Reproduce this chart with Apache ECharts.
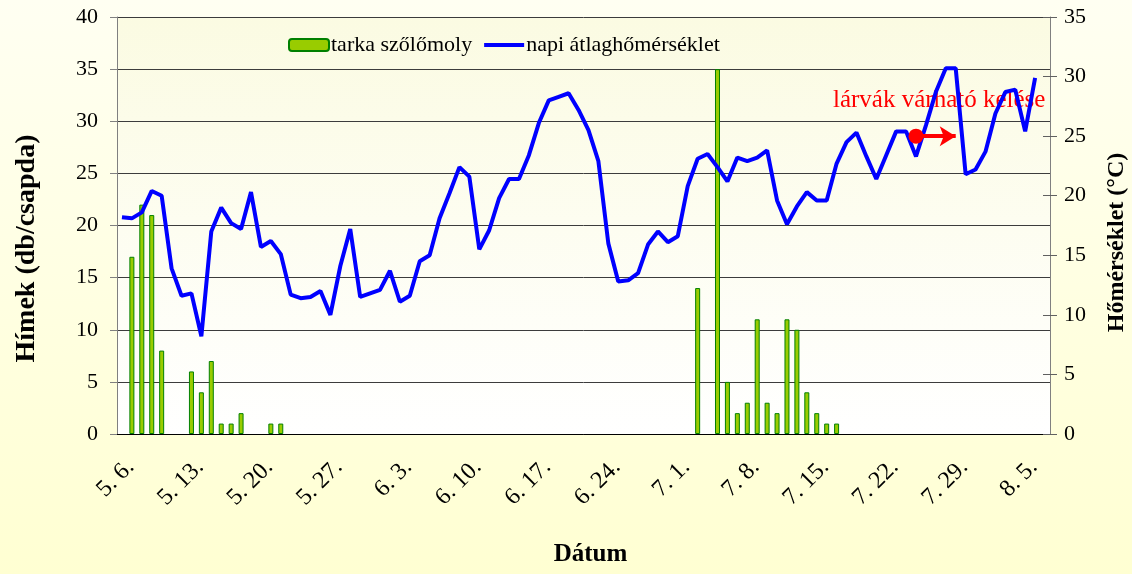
<!DOCTYPE html>
<html>
<head>
<meta charset="utf-8">
<script src="https://cdn.jsdelivr.net/npm/echarts@6/dist/echarts.min.js"></script>
<style>
html,body{margin:0;padding:0;}
#main{width:1132px;height:574px;}
</style>
</head>
<body>
<div id="main"></div>
<script>
// dátumok (5.6. - 8.7.)
var datumok = [
	'5. 6.','5. 7.','5. 8.','5. 9.','5. 10.','5. 11.','5. 12.',
	'5. 13.','5. 14.','5. 15.','5. 16.','5. 17.','5. 18.','5. 19.',
	'5. 20.','5. 21.','5. 22.','5. 23.','5. 24.','5. 25.','5. 26.',
	'5. 27.','5. 28.','5. 29.','5. 30.','5. 31.','6. 1.','6. 2.',
	'6. 3.','6. 4.','6. 5.','6. 6.','6. 7.','6. 8.','6. 9.',
	'6. 10.','6. 11.','6. 12.','6. 13.','6. 14.','6. 15.','6. 16.',
	'6. 17.','6. 18.','6. 19.','6. 20.','6. 21.','6. 22.','6. 23.',
	'6. 24.','6. 25.','6. 26.','6. 27.','6. 28.','6. 29.','6. 30.',
	'7. 1.','7. 2.','7. 3.','7. 4.','7. 5.','7. 6.','7. 7.',
	'7. 8.','7. 9.','7. 10.','7. 11.','7. 12.','7. 13.','7. 14.',
	'7. 15.','7. 16.','7. 17.','7. 18.','7. 19.','7. 20.','7. 21.',
	'7. 22.','7. 23.','7. 24.','7. 25.','7. 26.','7. 27.','7. 28.',
	'7. 29.','7. 30.','7. 31.','8. 1.','8. 2.','8. 3.','8. 4.',
	'8. 5.','8. 6.','8. 7.'
];

// tarka szőlőmoly fogás (db/csapda)
var himek = [
	null,17,22,21,8,null,null,
	6,4,7,1,1,2,null,
	null,1,1,null,null,null,null,
	null,null,null,null,null,null,null,
	null,null,null,null,null,null,null,
	null,null,null,null,null,null,null,
	null,null,null,null,null,null,null,
	null,null,null,null,null,null,null,
	null,null,14,null,35,5,2,
	3,11,3,2,11,10,4,
	2,1,1,null,null,null,null,
	null,null,null,null,null,null,null,
	null,null,null,null,null,null,null,
	null,null,null
];

// napi átlaghőmérséklet (°C)
var homerseklet = [
	18.2,18.1,18.6,20.4,20.0,13.9,11.6,
	11.8,8.2,17.0,19.0,17.7,17.2,20.3,
	15.7,16.2,15.1,11.7,11.4,11.5,12.0,
	10.0,14.1,17.2,11.5,11.8,12.1,13.7,
	11.1,11.6,14.5,15.0,18.1,20.2,22.4,
	21.6,15.5,17.1,19.8,21.4,21.4,23.4,
	26.1,28.0,28.3,28.6,27.2,25.5,22.9,
	16.0,12.8,12.9,13.5,15.9,17.0,16.1,
	16.6,20.8,23.1,23.5,22.4,21.2,23.2,
	22.9,23.2,23.8,19.6,17.6,19.1,20.3,
	19.6,19.6,22.7,24.5,25.3,23.3,21.4,
	23.4,25.4,25.4,23.3,25.9,28.7,30.7,
	30.7,21.8,22.2,23.7,26.9,28.7,28.9,
	25.4,29.9,null
];

// lárvák várható kelése: nyíl eleje és vége
var kelesNyil = [['7. 25.', 25], ['7. 29.', 25]];

var serif = '"Liberation Serif", "Times New Roman", serif';

var chart = echarts.init(document.getElementById('main'));

var option = {
	backgroundColor: {
		type: 'linear', x: 0, y: 0, x2: 0, y2: 1,
		colorStops: [{offset: 0, color: '#fffff2'}, {offset: 1, color: '#ffffd2'}]
	},
	animation: false,
	textStyle: {fontFamily: serif},
	grid: {
		left: 117, right: 82, top: 17, bottom: 140,
		outerBoundsMode: 'none',
		containLabel: false,
		show: true,
		borderWidth: 0,
		backgroundColor: {
			type: 'linear', x: 0, y: 0, x2: 0, y2: 1,
			colorStops: [{offset: 0, color: '#fbfbe2'}, {offset: 1, color: '#ffffff'}]
		}
	},
	legend: {
		left: 288, top: 34, padding: 0,
		itemWidth: 40, itemHeight: 12, itemGap: 12,
		textStyle: {fontFamily: serif, fontSize: 22, color: '#000', padding: [0, 0, 0, -3]},
		data: [
			{name: 'tarka szőlőmoly'},
			{name: 'napi átlaghőmérséklet', icon: 'path://M0,0 L10,0 L10,1 L0,1 Z', itemStyle: {color: '#0000ff'}}
		]
	},
	xAxis: [{
		type: 'category',
		data: datumok,
		position: 'bottom',
		boundaryGap: true,
		axisLine: {lineStyle: {color: '#000', width: 1}},
		axisTick: {interval: 6, length: 7, lineStyle: {color: '#000'}},
		axisLabel: {interval: 6, rotate: 45, margin: 21, verticalAlign: 'top', fontFamily: serif, fontSize: 24, color: '#000'},
		splitLine: {show: false},
		name: 'Dátum',
		nameLocation: 'middle',
		nameGap: 108,
		nameTextStyle: {fontFamily: serif, fontSize: 25, fontWeight: 'bold', color: '#000', padding: [0, 0, 0, 14]}
	}, {
		// belső osztásjelek
		type: 'category',
		data: datumok,
		position: 'bottom',
		boundaryGap: true,
		axisLine: {show: false},
		axisTick: {interval: 6, inside: true, length: 7, lineStyle: {color: '#000'}},
		axisLabel: {show: false},
		splitLine: {show: false}
	}],
	yAxis: [{
		type: 'value',
		position: 'left',
		min: 0, max: 40, interval: 5,
		axisLine: {show: true, lineStyle: {color: '#808080', width: 1}},
		axisTick: {show: true, length: 7, lineStyle: {color: '#808080'}},
		axisLabel: {margin: 19, fontFamily: serif, fontSize: 22, color: '#000'},
		splitLine: {lineStyle: {color: '#3c3c3c', width: 1}},
		name: 'Hímek (db/csapda)',
		nameLocation: 'middle',
		nameRotate: 90,
		nameGap: 76,
		nameTextStyle: {fontFamily: serif, fontSize: 28, fontWeight: 'bold', color: '#000', padding: [0, 46, 0, 0]}
	}, {
		type: 'value',
		position: 'right',
		min: 0, max: 35, interval: 5,
		axisLine: {show: true, lineStyle: {color: '#808080', width: 1}},
		axisTick: {show: true, length: 7, lineStyle: {color: '#606060'}},
		axisLabel: {margin: 14, fontFamily: serif, fontSize: 22, color: '#000'},
		splitLine: {show: false},
		name: 'Hőmérséklet (°C)',
		nameLocation: 'middle',
		nameRotate: 90,
		nameGap: 55,
		nameTextStyle: {fontFamily: serif, fontSize: 24, fontWeight: 'bold', color: '#000', padding: [0, 34, 0, 0]}
	}, {
		// belső osztásjelek a jobb tengelyen
		type: 'value',
		position: 'right',
		min: 0, max: 35, interval: 5,
		axisLine: {show: false},
		axisTick: {show: true, inside: true, length: 7, lineStyle: {color: '#606060'}},
		axisLabel: {show: false},
		splitLine: {show: false}
	}],
	series: [{
		name: 'tarka szőlőmoly',
		type: 'bar',
		yAxisIndex: 0,
		data: himek,
		barWidth: 5,
		itemStyle: {color: '#99cc00', borderColor: '#008000', borderWidth: 1}
	}, {
		name: 'napi átlaghőmérséklet',
		type: 'line',
		yAxisIndex: 1,
		data: homerseklet,
		symbol: 'none',
		connectNulls: false,
		lineStyle: {color: '#0000ff', width: 4},
		itemStyle: {color: '#0000ff'},
		z: 3,
		markLine: {
			silent: true,
			symbol: ['circle', 'arrow'],
			symbolSize: [15, 16],
			lineStyle: {color: '#ff0000', width: 4, type: 'solid'},
			label: {show: false},
			data: [[{coord: kelesNyil[0]}, {coord: kelesNyil[1]}]]
		}
	}],
	graphic: [{
		type: 'text',
		left: 833, top: 88,
		z: 1,
		style: {text: 'lárvák várható kelése', fill: '#ff0000', font: '25px ' + serif}
	}]
};

chart.setOption(option);
</script>
</body>
</html>
